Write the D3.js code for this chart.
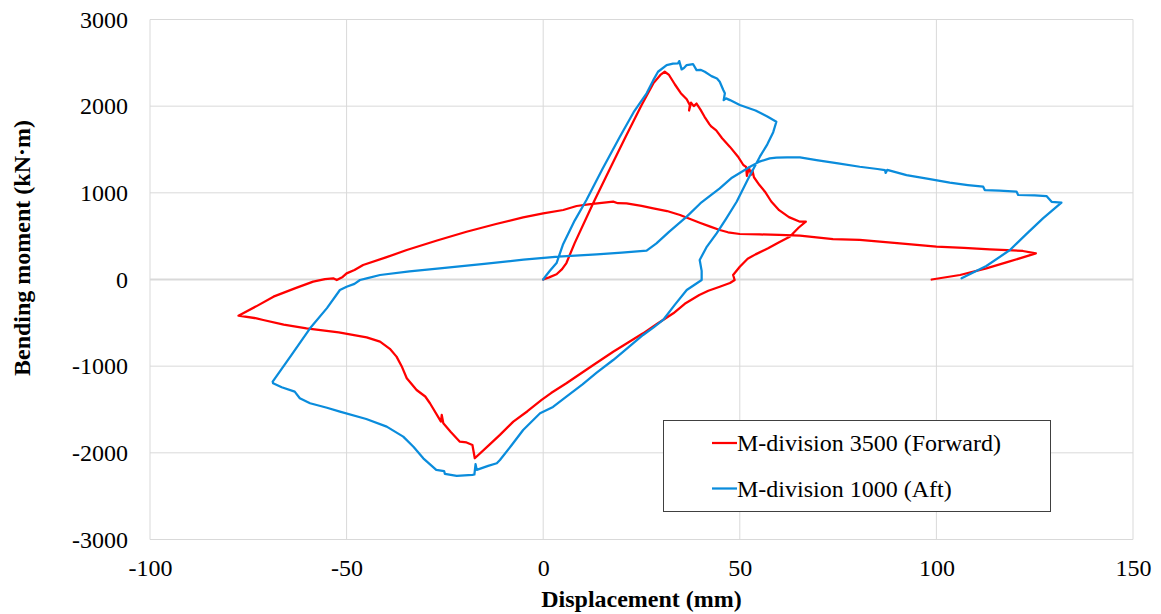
<!DOCTYPE html>
<html>
<head>
<meta charset="utf-8">
<script src="https://cdn.jsdelivr.net/npm/d3@7"></script>
<style>
  html, body { margin: 0; padding: 0; background: #ffffff; }
  svg { display: block; }
  text { font-family: "Liberation Serif", "Times New Roman", serif; fill: #000; }
</style>
</head>
<body>
<svg id="chart" width="1161" height="614"></svg>
<script>
// Moment–displacement hysteresis of the two M-division sensors.
const xTicks = [-100, -50, 0, 50, 100, 150];
const yTicks = [-3000, -2000, -1000, 0, 1000, 2000, 3000];

const seriesNames = ["M-division 3500 (Forward)", "M-division 1000 (Aft)"];
const seriesColors = ["#ff0000", "#0a8cdc"];

// Forward sensor: displacement (mm) and bending moment (kN·m)
const fwdDisp = [
  0, 1.5, 3.4, 4.8, 5.9, 8, 12.7, 17, 21, 25, 28, 29.8, 30.9, 32, 33.5, 35, 36.5, 37.3,
  37.1, 37.6, 38.3, 39, 40, 41, 42.3, 42.8, 44, 45.5, 47.5, 49.5, 50.9, 51.6, 51.8, 52.3,
  52.9, 53.2, 53.6, 55, 56.4, 58, 60, 62.5, 65.3, 66.8, 65, 62.7, 60, 57.2, 54, 52, 50,
  48.3, 48.7, 47.5, 44.9, 42, 39.7, 36, 33.1, 29, 25.4, 21.5, 17.8, 12, 5.9, 2, -0.4,
  -4, -7.6, -11, -14, -17.4, -18, -19.5, -21.2, -23.5, -25.4, -25.8, -26, -28.8, -30,
  -32.2, -34.7, -36, -37.3, -39, -41.5, -44.9, -52, -60.2, -66, -71.2, -72.9, -77.5,
  -73, -68.6, -63, -58.5, -55.5, -53.4, -52.5, -51, -50, -48, -45.8, -40, -34.7, -27,
  -19.5, -12, -5.1, 0, 5.1, 8.5, 12, 17.8, 19, 21.2, 25, 28, 31.5, 34.8, 39.8, 42.5,
  44.9, 47, 50, 55, 60, 65.3, 73.7, 80.5, 90, 100, 107, 113.6, 118, 122, 125.3, 118,
  112.7, 106, 98.8
];
const fwdMoment = [
  0, 25, 60, 120, 190, 420, 879, 1280, 1650, 2010, 2263, 2360, 2397, 2360, 2250, 2150, 2080, 2012,
  1950, 2040, 2000, 2030, 1960, 1880, 1790, 1763, 1720, 1630, 1530, 1420, 1321, 1300, 1195, 1290,
  1210, 1260, 1180, 1090, 1013, 900, 800, 720, 667, 667, 600, 494, 430, 360, 290, 240, 148,
  52, -6, -40, -83, -130, -179, -280, -390, -510, -621, -730, -833, -1010, -1197, -1310, -1390,
  -1520, -1640, -1793, -1920, -2063, -1909, -1880, -1871, -1760, -1659, -1563, -1640, -1428, -1350,
  -1275, -1140, -1000, -890, -800, -717, -667, -610, -563, -520, -467, -448, -417,
  -310, -198, -100, -25, 5, 14, -6, 30, 71, 110, 167, 255, 340, 450,
  551, 640, 717, 763, 802, 848, 870, 898, 880, 879, 850, 821, 790, 744, 655, 610,
  571, 545, 525, 520, 515, 505, 467, 456, 420, 378, 365, 348, 340, 329, 302, 200,
  129, 52, 0
];

// Aft sensor: displacement (mm) and bending moment (kN·m)
const aftDisp = [
  0, 0.8, 1.7, 3.4, 5, 8, 11, 15, 19.5, 23, 26.3, 28, 29.2, 31.4, 33, 34.3, 34.6, 35.2,
  35.8, 36.5, 38.1, 39, 40, 41.1, 42.8, 44.2, 44.9, 45.8, 46.2, 45.9, 46.5, 47.5, 50, 54,
  57, 59.3, 58.5, 57, 55.1, 52, 49.2, 46.5, 44.1, 41.5, 39.8, 40.3, 40.3, 38.5, 36.5,
  33.5, 30.5, 28, 25.4, 21.5, 17.8, 13.6, 10, 5.9, 2.5, -0.8, -5.1, -8, -11, -11.8, -14,
  -16.9, -17.2, -17.5, -18, -20, -22, -25, -25.2, -27.2, -30.5, -33, -35.6, -39.8, -45,
  -51.7, -55, -59.3, -61.9, -63.2, -66.5, -68.7, -68.8, -64, -59.3, -55, -51.7, -50, -48,
  -46.6, -44.9, -41.5, -34, -26.3, -15, -5, 3.8, 13.6, 20, 26.3, 28.8, 32, 36.5, 40,
  44.9, 48, 52.6, 55, 57.6, 59.3, 62, 65.3, 69.5, 75, 80.5, 85, 86.9, 87.1, 87.5, 92.4,
  98, 103.4, 108, 111.9, 112.3, 116, 120.4, 120.8, 125, 128, 129.3, 131.8, 127.1, 123,
  118.7, 112.7, 106.4
];
const aftMoment = [
  0, 50, 100, 190, 400, 680, 917, 1270, 1647, 1930, 2148, 2300, 2397, 2474, 2490, 2494, 2520, 2424,
  2440, 2474, 2486, 2416, 2420, 2397, 2347, 2320, 2282, 2186, 2148, 2070, 2090, 2070, 2013, 1950,
  1880, 1820, 1700, 1560, 1417, 1150, 897, 700, 533, 370, 225, 100, -6, -60, -121,
  -290, -467, -555, -640, -790, -929, -1075, -1210, -1352, -1470, -1543, -1736, -1910, -2082, -2120, -2150,
  -2197, -2130, -2250, -2255, -2260, -2266, -2243, -2210, -2197, -2063, -1930, -1813, -1698, -1610,
  -1525, -1480, -1428, -1370, -1294, -1243, -1197, -1178, -870, -563, -330, -121, -83, -50,
  -6, 14, 52, 95, 129, 180, 230, 263, 290, 310, 333, 417, 550, 725, 880,
  1052, 1175, 1301, 1360, 1398, 1405, 1410, 1409, 1378, 1340, 1301, 1275, 1263, 1230, 1265, 1205,
  1160, 1117, 1090, 1071, 1032, 1025, 1013, 975, 970, 963, 897, 886, 706, 530,
  340, 156, 14
];

const series = [
  { name: seriesNames[0], color: seriesColors[0], pts: d3.zip(fwdDisp, fwdMoment) },
  { name: seriesNames[1], color: seriesColors[1], pts: d3.zip(aftDisp, aftMoment) }
];

const svg = d3.select("#chart");
svg.append("rect").attr("width", 1161).attr("height", 614).attr("fill", "#ffffff");

const plot = { left: 150, right: 1133, top: 19.5, bottom: 539.5 };
const x = d3.scaleLinear().domain([-100, 150]).range([plot.left, plot.right]);
const y = d3.scaleLinear().domain([-3000, 3000]).range([plot.bottom, plot.top]);

// plain hyphen-minus, as in the printed axis labels
const fmt = d => String(d);

// gridlines
const grid = svg.append("g");
grid.selectAll("line.v").data(xTicks).join("line")
  .attr("x1", d => x(d)).attr("x2", d => x(d))
  .attr("y1", plot.top).attr("y2", plot.bottom)
  .attr("stroke", "#d9d9d9").attr("stroke-width", 1);
grid.selectAll("line.h").data(yTicks).join("line")
  .attr("x1", plot.left).attr("x2", plot.right)
  .attr("y1", d => y(d)).attr("y2", d => y(d))
  .attr("stroke", "#d9d9d9").attr("stroke-width", d => d === 0 ? 2 : 1);

// axes (labels only, tick marks hidden)
const xAxis = d3.axisBottom(x).tickValues(xTicks).tickSize(0).tickPadding(0).tickFormat(fmt);
const gx = svg.append("g").attr("transform", `translate(0,${plot.bottom})`).call(xAxis);
gx.select(".domain").remove();
gx.selectAll("text").attr("font-size", 24).attr("font-family", "Liberation Serif")
  .attr("dy", null).attr("y", 36);

const yAxis = d3.axisLeft(y).tickValues(yTicks).tickSize(0).tickPadding(22).tickFormat(fmt);
const gy = svg.append("g").attr("transform", `translate(${plot.left},0)`).call(yAxis);
gy.select(".domain").remove();
gy.selectAll("text").attr("font-size", 24).attr("font-family", "Liberation Serif");

// axis titles
svg.append("text")
  .attr("x", (plot.left + plot.right) / 2).attr("y", 607)
  .attr("text-anchor", "middle").attr("font-size", 24).attr("font-weight", "bold")
  .text("Displacement (mm)");
svg.append("text")
  .attr("transform", "translate(30,248) rotate(-90)")
  .attr("text-anchor", "middle").attr("font-size", 24).attr("font-weight", "bold")
  .text("Bending moment (kN·m)");

// curves
const line = d3.line().x(d => x(d[0])).y(d => y(d[1])).curve(d3.curveLinear);
svg.append("g").selectAll("path").data(series).join("path")
  .attr("d", d => line(d.pts))
  .attr("fill", "none")
  .attr("stroke", d => d.color)
  .attr("stroke-width", 2.25)
  .attr("stroke-linejoin", "round")
  .attr("stroke-linecap", "round");

// legend
const lg = svg.append("g");
lg.append("rect").attr("x", 663.5).attr("y", 420.5).attr("width", 387).attr("height", 91)
  .attr("fill", "#ffffff").attr("stroke", "#404040").attr("stroke-width", 1);
const items = lg.selectAll("g.item").data(series).join("g")
  .attr("transform", (d, i) => `translate(0,${443 + i * 45.5})`);
items.append("line").attr("x1", 712).attr("x2", 737).attr("y1", 0).attr("y2", 0)
  .attr("stroke", d => d.color).attr("stroke-width", 2.25);
items.append("text").attr("x", 737).attr("y", 8).attr("font-size", 24)
  .text(d => d.name);
</script>
</body>
</html>
